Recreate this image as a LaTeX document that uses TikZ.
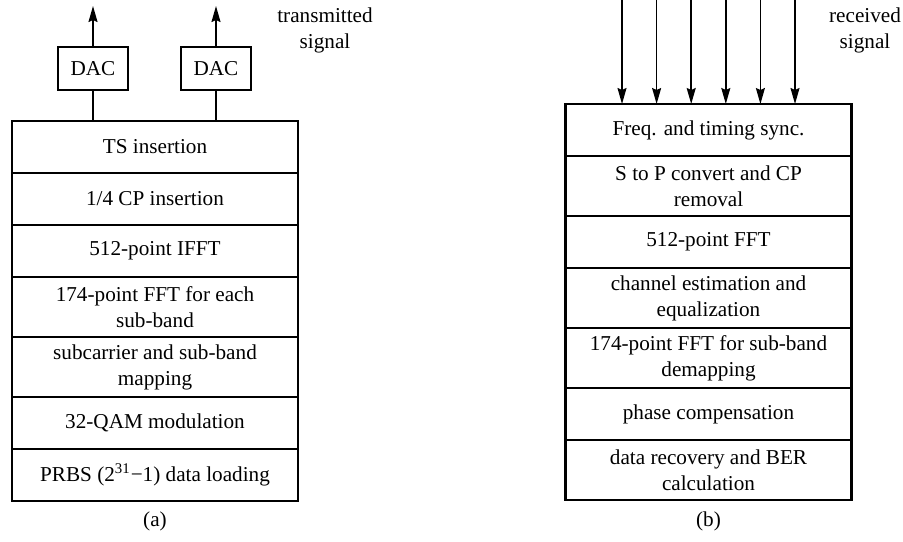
\documentclass[tikz,border=0pt]{standalone}
\usepackage{fontspec}
\setmainfont{Liberation Serif}
\usetikzlibrary{positioning,arrows.meta}
\begin{document}
\begin{tikzpicture}[x=0.5pt, y=-0.5pt,
  blk/.style={draw, line width=1.2pt, outer sep=0pt, inner sep=0pt, minimum width=143pt, minimum height=26pt, align=center, font=\fontsize{10.6}{13}\selectfont},
  blk2/.style={blk, minimum height=30pt},
  dac/.style={draw, line width=1.2pt, inner sep=0pt, minimum width=35pt, minimum height=21.5pt, font=\fontsize{10.6}{13}\selectfont},
  lbl/.style={align=center, inner sep=0pt, font=\fontsize{10.6}{13}\selectfont},
  wire/.style={line width=0.75pt},
  sig/.style={wire, -{Stealth[length=8pt, width=4.5pt, inset=1pt]}}]
\useasboundingbox (0,0) rectangle (903,541);
% (a) transmitter
\node[blk, anchor=north] (tsins) at (155,121) {TS insertion};
\node[blk, below=0pt of tsins] (cpins) {1/4 CP insertion};
\node[blk, below=0pt of cpins] (ifft) {512-point IFFT};
\node[blk2, below=0pt of ifft] (sbfft) {174-point FFT for each\\sub-band};
\node[blk2, below=0pt of sbfft] (sbmap) {subcarrier and sub-band\\mapping};
\node[blk, below=0pt of sbmap] (qam) {32-QAM modulation};
\node[blk, below=0pt of qam] (prbs) {PRBS (2\textsuperscript{31}−1) data loading};
\node[dac] (dac1) at (93,68.5) {DAC};
\node[dac] (dac2) at (216,68.5) {DAC};
\coordinate (out1) at (93,6);
\coordinate (out2) at (216,6);
\draw[wire] (dac1) -- (dac1 |- tsins.north);
\draw[wire] (dac2) -- (dac2 |- tsins.north);
\draw[sig] (dac1) -- (out1);
\draw[sig] (dac2) -- (out2);
\node[lbl] (txsig) at (325,30) {transmitted\\signal};
\node[lbl] (capa) at (155,521) {(a)};
% (b) receiver
\node[blk, anchor=north] (fsync) at (708.5,104) {Freq. and timing sync.};
\node[blk2, below=0pt of fsync] (sprm) {S to P convert and CP\\removal};
\node[blk, below=0pt of sprm] (fft) {512-point FFT};
\node[blk2, below=0pt of fft] (cheq) {channel estimation and\\equalization};
\node[blk2, below=0pt of cheq] (sbdm) {174-point FFT for sub-band\\demapping};
\node[blk, below=0pt of sbdm] (phcomp) {phase compensation};
\node[blk2, below=0pt of phcomp] (ber) {data recovery and BER\\calculation};
\foreach \i in {0,...,5} {
  \coordinate (in\i) at (622+34.6*\i,0);
  \draw[sig] (in\i) -- (in\i |- fsync.north);
}
\node[lbl] (rxsig) at (865,30) {received\\signal};
\node[lbl] (capb) at (708.5,521) {(b)};
\end{tikzpicture}
\end{document}
